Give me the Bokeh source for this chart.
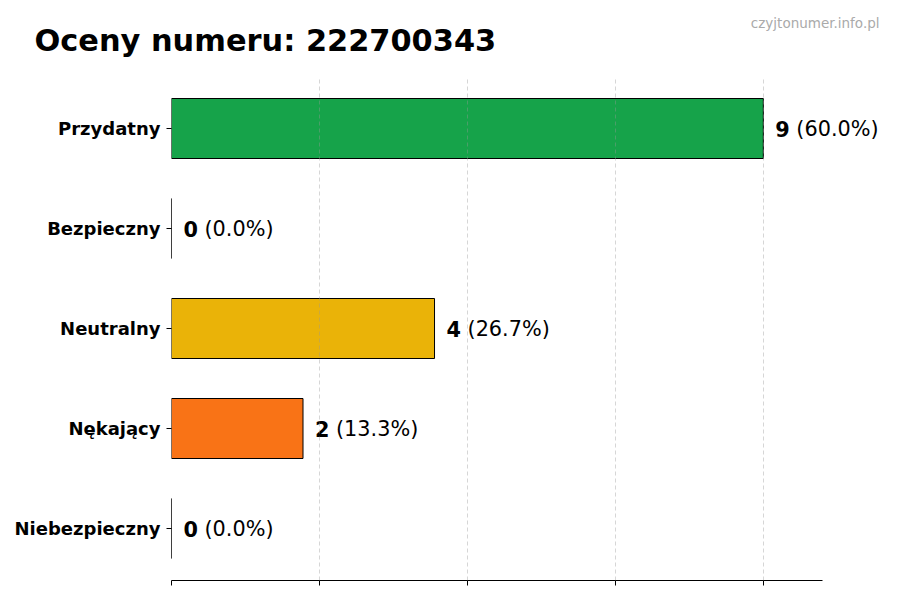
from bokeh.plotting import figure
from bokeh.models import ColumnDataSource, Range1d, FixedTicker, Label, LabelSet, CustomJSTickFormatter
from bokeh.embed import file_html
from bokeh.resources import INLINE
from bokeh.core.properties import value

title_text = "Oceny numeru: 222700343"
watermark = "czyjtonumer.info.pl"
categories = ["Przydatny", "Bezpieczny", "Neutralny", "Nękający", "Niebezpieczny"]
counts = [9, 0, 4, 2, 0]
colors = ["#16a34a", "#3b82f6", "#eab308", "#f97316", "#dc2626"]
grid_ticks = [0, 2.25, 4.5, 6.75, 9]

total = sum(counts)
ypos = list(range(len(categories) - 1, -1, -1))
nums = [str(c) for c in counts]
pcts = ["(%.1f%%)" % (c / total * 100) for c in counts]

src = ColumnDataSource(dict(y=ypos, right=counts, color=colors, num=nums, pct=pcts))

FONT = "DejaVu Sans"
axis_end = max(counts) * 1.1          # x axis line runs 0 .. 9.9
axis_px = 651                          # pixel length of that axis
frame_px = 729                         # frame reaches the right edge so value labels are not clipped
x_end = axis_end * frame_px / axis_px

p = figure(
    frame_width=frame_px, frame_height=504,
    x_range=Range1d(0, x_end), y_range=Range1d(-0.52, len(categories) - 0.48),
    output_backend="svg", toolbar_location=None, title=None,
    min_border_left=171, min_border_right=0, min_border_top=76, min_border_bottom=20,
)
p.outline_line_color = None
p.background_fill_color = "white"
p.border_fill_color = "white"

p.hbar(y="y", left=0, right="right", height=0.6, fill_color="color",
       line_color="black", line_width=1, source=src)

p.add_layout(LabelSet(x="right", y="y", text="num", x_offset=12, text_baseline="middle",
                      text_font=value(FONT), text_font_style="bold", text_font_size="20.8px",
                      text_color="black", source=src))
p.add_layout(LabelSet(x="right", y="y", text="pct", x_offset=33, text_baseline="middle",
                      text_font=value(FONT), text_font_size="20.8px", text_color="black", source=src))

# title and watermark, in the panel above the frame
p.add_layout(Label(x=34, y=40, x_units="canvas", y_units="canvas", text=title_text,
                   text_align="left", text_baseline="alphabetic", text_font=FONT,
                   text_font_size="30.4px", text_font_style="bold", text_color="black"), "above")
p.add_layout(Label(x=879, y=22, x_units="canvas", y_units="canvas", text=watermark,
                   text_align="right", text_baseline="alphabetic", text_font=FONT,
                   text_font_size="13.5px", text_color="#aaaaaa"), "above")

# grid
p.ygrid.visible = False
p.xgrid.ticker = FixedTicker(ticks=grid_ticks)
p.xgrid.grid_line_color = "#999999"
p.xgrid.grid_line_alpha = 0.4
p.xgrid.grid_line_dash = "4 3"
p.xgrid.level = "overlay"

# x axis (ticks without labels)
p.xaxis.ticker = FixedTicker(ticks=grid_ticks)
p.xaxis.bounds = (0, axis_end)
p.xaxis.formatter = CustomJSTickFormatter(code="return '';")
p.xaxis.major_label_standoff = 0
p.xaxis.major_tick_in = 0
p.xaxis.major_tick_out = 5
p.xaxis.minor_tick_line_color = None
p.xaxis.axis_line_color = "black"
p.xaxis.major_tick_line_color = "black"

# y axis
p.yaxis.ticker = FixedTicker(ticks=ypos)
p.yaxis.major_label_overrides = {y: c for y, c in zip(ypos, categories)}
p.yaxis.axis_line_color = None
p.yaxis.major_tick_in = 0
p.yaxis.major_tick_out = 5
p.yaxis.minor_tick_line_color = None
p.yaxis.major_label_standoff = 6
p.yaxis.major_label_text_font = FONT
p.yaxis.major_label_text_font_style = "bold"
p.yaxis.major_label_text_font_size = "18px"
p.yaxis.major_label_text_color = "black"

open("out.html", "w").write(file_html(p, INLINE))
